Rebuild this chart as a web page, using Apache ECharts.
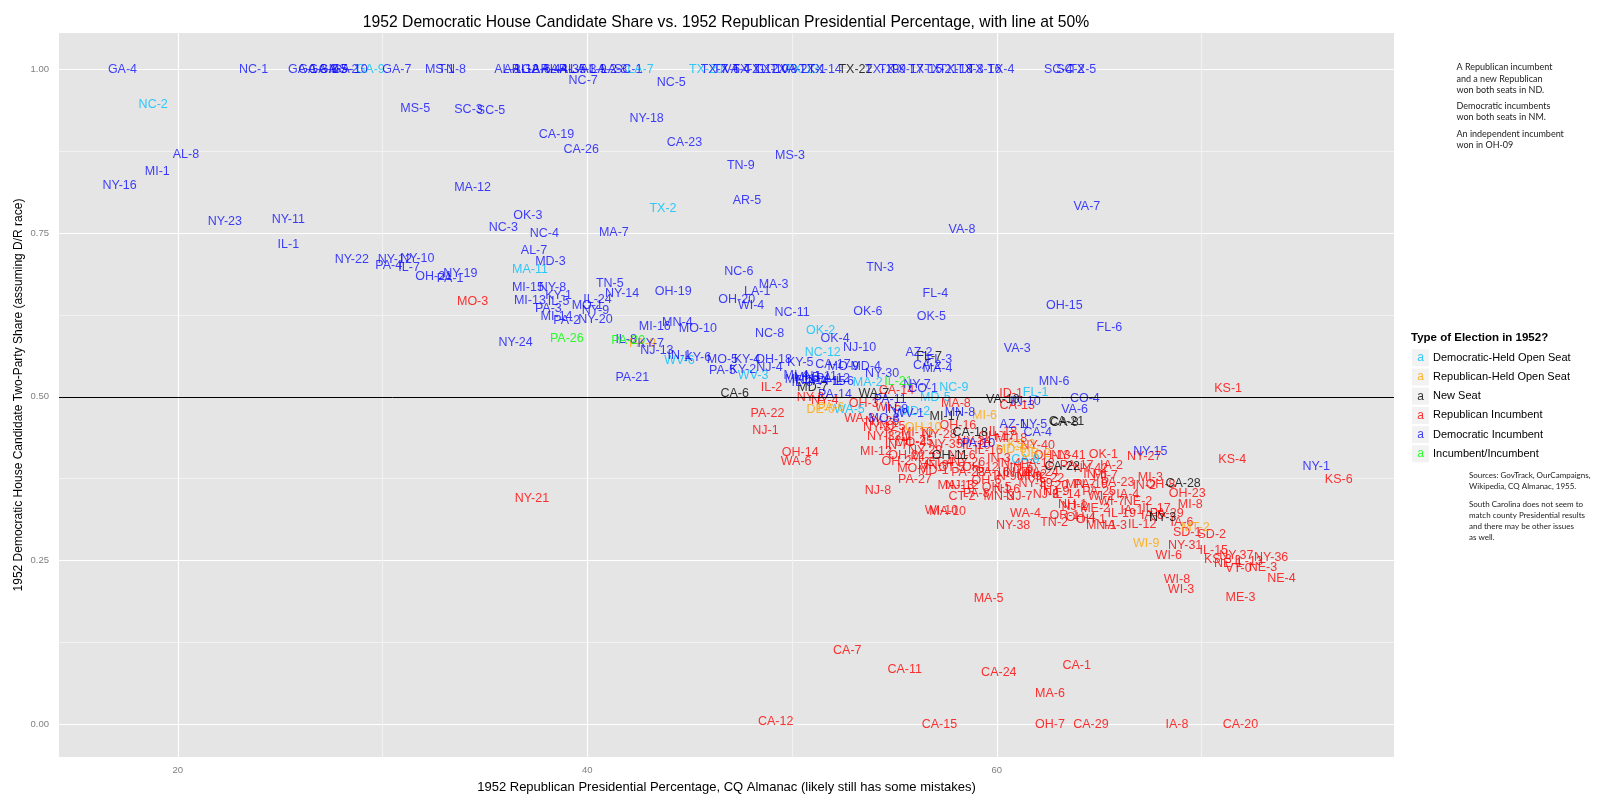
<!DOCTYPE html>
<html><head><meta charset="utf-8">
<script src="https://cdn.jsdelivr.net/npm/echarts@6/dist/echarts.min.js"></script>
<style>html,body{margin:0;padding:0;background:#fff}#c{width:1600px;height:802px}</style>
</head><body><div id="c"></div>
<script>
// [district, 1952 Republican presidential %, Democratic two-party House share]
const repInc = [
["MO-3",34.4,0.646],["NY-21",37.3,0.344],["IL-2",49.0,0.514],["PA-22",48.8,0.475],["NJ-1",48.7,0.448],
["OH-14",50.4,0.415],["WA-6",50.2,0.401],["NY-2",50.9,0.499],["NY-4",51.6,0.495],["CA-14",55.1,0.509],
["OH-3",53.5,0.489],["WI-5",54.7,0.484],["WA-3",53.3,0.467],["NY-32",54.3,0.453],["NY-33",54.5,0.440],
["IL-11",55.2,0.440],["MO-4",55.8,0.430],["MI-10",56.1,0.446],["MA-8",58.0,0.489],["OH-16",58.1,0.456],
["MI-12",54.1,0.417],["OH-22",55.6,0.411],["MI-2",56.4,0.407],["MN-9",56.9,0.395],["MD-1",56.9,0.387],
["PA-28",58.6,0.384],["PA-27",56.0,0.373],["NJ-8",54.2,0.357],["MA-13",58.0,0.365],["NJ-12",58.3,0.365],
["WI-10",57.3,0.326],["MA-10",57.6,0.325],["WA-4",61.4,0.321],["NY-38",60.8,0.303],["TN-2",62.8,0.308],
["NJ-3",62.4,0.350],["NH-1",63.7,0.335],["OR-1",63.3,0.319],["IL-20",62.8,0.365],["NY-39",61.9,0.368],
["OH-5",60.0,0.361],["NJ-6",60.5,0.358],["ID-1",60.7,0.505],["CA-13",61.0,0.487],["IL-18",60.3,0.447],
["MI-18",60.7,0.436],["OH-13",62.7,0.411],["OK-1",65.2,0.412],["NY-27",67.2,0.409],["KS-1",71.3,0.513],
["KS-4",71.5,0.404],["KS-6",76.7,0.374],["MI-3",67.5,0.376],["OH-23",69.3,0.352],["OH-8",68.0,0.366],
["IN-2",67.2,0.364],["PA-23",65.9,0.369],["MI-7",65.3,0.379],["IN-6",64.8,0.381],["PA-19",64.6,0.366],
["MN-7",64.1,0.366],["IL-14",63.4,0.350],["WI-2",65.1,0.348],["WI-7",65.6,0.340],["NJ-2",63.8,0.333],
["ME-2",64.8,0.330],["OH-4",64.1,0.315],["OH-1",64.6,0.312],["MN-1",65.1,0.304],["IA-3",65.8,0.304],
["IL-19",66.1,0.322],["IA-1",66.6,0.327],["IA-5",67.6,0.319],["SD-1",69.3,0.293],["IL-12",67.1,0.305],
["IA-6",69.05,0.308],["MI-8",69.45,0.335],["NY-31",69.2,0.273],["SD-2",70.5,0.290],["IL-15",70.6,0.265],
["NY-37",71.7,0.257],["NY-36",73.4,0.255],["NE-3",73.0,0.240],["NE-4",73.9,0.223],["NE-1",71.3,0.245],
["KS-3",70.8,0.252],["IL-13",72.3,0.248],["VT-0",71.8,0.237],["WI-6",68.4,0.257],["WI-8",68.8,0.221],
["WI-3",69.0,0.206],["ME-3",71.9,0.193],["MA-5",59.6,0.192],["CA-7",52.7,0.112],["CA-11",55.5,0.084],
["CA-24",60.1,0.079],["CA-1",63.9,0.089],["MA-6",62.6,0.047],["CA-12",49.2,0.004],["CA-15",57.2,0.000],
["OH-7",62.6,0.000],["CA-29",64.6,0.000],["IA-8",68.8,0.000],["CA-20",71.9,0.000],
["IL-10",59.0,0.425],["IL-16",59.6,0.418],["IN-3",60.1,0.405],["IN-4",60.6,0.398],["IN-5",61.2,0.392],
["OH-12",59.2,0.392],["PA-16",59.8,0.385],["IN-9",60.4,0.378],["IN-11",61.0,0.385],["MI-9",61.6,0.378],
["PA-24",62.2,0.385],["PA-18",62.0,0.398],["IL-22",62.6,0.375],["OH-6",59.5,0.372],["NY-26",58.6,0.399],
["NY-28",57.2,0.442],["NY-35",57.5,0.427],["IL-25",56.2,0.431],["NY-25",54.4,0.462],["NJ-5",54.9,0.454],
["NY-34",58.9,0.432],["OH-17",60.0,0.440],["NY-40",62.0,0.425],["NY-41",63.5,0.410],["PA-17",63.9,0.395],
["NY-42",64.6,0.390],["IA-2",65.6,0.395],["IA-4",66.4,0.350],["NE-2",66.9,0.340],["IL-17",67.8,0.330],
["PA-25",65.0,0.355],["PA-29",68.3,0.322],["MN-2",61.7,0.381],["NJ-9",62.9,0.356],["NJ-7",61.1,0.348],
["MN-3",60.1,0.347],["PA-8",59.0,0.352],["IN-7",55.1,0.426],["OH-2",55.1,0.401],["MO-7",55.9,0.390],
["NY-29",56.5,0.418],["CT-4",57.2,0.400],["CT-5",57.8,0.392],["NY-6",58.3,0.410],["CT-2",58.3,0.347]
];
const demOpen = [
["NC-2",18.8,0.946],["GA-9",29.4,1],["LA-7",42.6,1],["TX-20",45.8,1],["TX-13",50.5,1],
["TX-2",43.7,0.788],["MA-11",37.2,0.694],["WV-6",44.5,0.555],["OK-2",51.4,0.601],["NC-12",51.5,0.567],
["WV-3",48.1,0.532],["MA-2",53.7,0.522],["NC-9",57.9,0.514],["MD-5",57.0,0.499],["FL-1",61.9,0.507],
["WA-5",52.8,0.481],["CA-9",61.4,0.404],["MD-2",56.0,0.477]
];
const repOpen = [
["PA-9",42.7,0.582],["DE-0",51.4,0.480],["PA-6",51.9,0.483],["MI-6",59.4,0.471],["KS-2",61.2,0.427],
["MD-6",60.7,0.419],["OR-2",61.9,0.414],["OH-10",56.4,0.453],["MT-2",69.7,0.300],["WI-9",67.3,0.276]
];
const newSeat = [
["TX-22",53.1,1],["CA-6",47.2,0.505],["MD-7",51.0,0.514],["WA-7",54.0,0.505],["FL-7",56.7,0.562],
["MI-17",57.5,0.470],["CA-18",58.7,0.445],["OH-11",57.7,0.411],["VA-10",60.3,0.496],["CA-21",63.4,0.462],
["CA-8",63.3,0.461],["CA-22",63.2,0.394],["CA-28",69.1,0.368],["NY-3",68.1,0.316]
];
const demInc = [
["GA-4",17.3,1],["NC-1",23.7,1],["GA-1",26.1,1],["GA-8",26.6,1],["GA-3",27.1,1],["GA-5",27.6,1],
["MS-2",28.1,1],["GA-10",28.4,1],["GA-7",30.7,1],["MS-1",32.8,1],["TN-8",33.4,1],["AL-1",36.1,1],
["AR-1",36.6,1],["AL-2",37.0,1],["GA-6",37.5,1],["AR-4",38.0,1],["AL-4",38.4,1],["AR-3",38.9,1],
["AL-5",39.3,1],["LA-3",39.8,1],["AL-9",40.3,1],["LA-2",40.8,1],["LA-8",41.3,1],["SC-1",42.0,1],
["TX-7",46.2,1],["TX-6",46.8,1],["VA-4",47.3,1],["TX-11",47.9,1],["TX-12",48.5,1],["TX-10",49.0,1],
["TX-8",49.6,1],["VA-2",50.1,1],["TX-1",51.0,1],["TX-14",51.6,1],["TX-19",54.4,1],["TX-9",54.9,1],
["TX-17",55.6,1],["TX-15",56.5,1],["TX-21",57.3,1],["TX-18",58.0,1],["TX-3",58.7,1],["TX-16",59.4,1],
["TX-4",60.2,1],["SC-4",63.0,1],["SC-2",63.6,1],["TX-5",64.2,1],
["NC-7",39.8,0.983],["NC-5",44.1,0.980],["MS-5",31.6,0.940],["SC-3",34.2,0.938],["SC-5",35.3,0.937],
["NY-18",42.9,0.925],["CA-19",38.5,0.900],["CA-26",39.7,0.878],["CA-23",44.75,0.888],["MS-3",49.9,0.869],
["TN-9",47.5,0.853],["AR-5",47.8,0.799],["AL-8",20.4,0.870],["MI-1",19.0,0.844],["NY-16",17.16,0.823],
["MA-12",34.4,0.820],["NY-23",22.3,0.768],["NY-11",25.4,0.771],["OK-3",37.1,0.776],["NC-3",35.9,0.758],
["NC-4",37.9,0.750],["MA-7",41.3,0.751],["IL-1",25.4,0.733],["NY-22",28.5,0.710],["AL-7",37.4,0.724],
["MD-3",38.2,0.706],["PA-4",30.3,0.701],["NY-12",30.6,0.710],["NY-10",31.7,0.711],["IL-7",31.3,0.697],
["OH-21",32.5,0.684],["PA-1",33.3,0.681],["NY-19",33.8,0.688],["MI-15",37.1,0.667],["NY-8",38.3,0.667],
["KY-1",38.6,0.655],["MI-13",37.2,0.647],["IL-5",38.6,0.645],["PA-3",38.1,0.635],["MO-1",40.0,0.640],
["IL-24",40.5,0.648],["NY-9",40.4,0.631],["MI-14",38.5,0.623],["PA-2",39.0,0.616],["NY-20",40.4,0.618],
["TN-5",41.1,0.673],["NY-14",41.7,0.658],["MI-16",43.3,0.607],["NY-24",36.5,0.583],["IL-8",41.9,0.587],
["KY-7",43.1,0.581],["NJ-13",43.4,0.571],["IN-1",44.5,0.563],["KY-6",45.4,0.560],["PA-21",42.2,0.529],
["OH-19",44.2,0.660],["NC-6",47.4,0.692],["LA-1",48.3,0.661],["MA-3",49.1,0.672],["OH-20",47.3,0.649],
["WI-4",48.0,0.640],["NC-11",50.0,0.628],["MN-4",44.4,0.614],["MO-10",45.4,0.604],["NC-8",48.9,0.596],
["OK-4",52.1,0.589],["NJ-10",53.3,0.575],["MO-5",46.6,0.557],["KY-4",47.8,0.557],["OH-18",49.1,0.557],
["KY-5",50.4,0.552],["CA-17",52.0,0.550],["MO-9",52.5,0.546],["MD-4",53.6,0.546],["PA-5",46.6,0.540],
["KY-2",47.6,0.541],["NJ-4",48.9,0.545],["NY-30",54.4,0.536],["MI-4",50.2,0.532],["MI-5",50.7,0.530],
["NJ-11",51.4,0.531],["PA-12",52.0,0.528],["IL-3",50.5,0.522],["MI-11",50.4,0.527],["NJ-14",51.0,0.525],
["PA-15",51.8,0.524],["IL-6",52.5,0.523],["VA-8",58.3,0.755],["VA-7",64.4,0.791],["TN-3",54.3,0.697],
["FL-4",57.0,0.657],["OK-6",53.7,0.630],["OK-5",56.8,0.622],["OH-15",63.3,0.640],["FL-6",65.5,0.606],
["VA-3",61.0,0.574],["AZ-2",56.2,0.567],["FL-3",57.2,0.557],["CA-2",56.6,0.548],["MA-4",57.1,0.543],
["NY-7",56.1,0.519],["CO-1",56.4,0.512],["PA-14",52.1,0.504],["PA-11",54.8,0.496],["MO-8",54.5,0.467],
["IN-8",55.1,0.481],["MN-8",58.2,0.476],["PA-10",59.1,0.428],["MN-6",62.8,0.524],["CO-4",64.3,0.498],
["VA-6",63.8,0.481],["IN-10",61.4,0.492],["AZ-1",60.8,0.458],["NY-5",61.8,0.458],["CA-4",62.0,0.446],
["NY-15",67.5,0.416],["NY-1",75.6,0.393],["WV-1",55.7,0.474]
];
const incInc = [["PA-26",39.0,0.589],["PA-20",42.0,0.586],["IL-21",55.2,0.524]];

const legendNames = ['Democratic-Held Open Seat','Republican-Held Open Seat','New Seat','Republican Incumbent','Democratic Incumbent','Incumbent/Incumbent'];
const legendColors = ['rgba(0,191,255,0.8)','rgba(255,165,0,0.8)','rgba(0,0,0,0.8)','rgba(255,0,0,0.8)','rgba(0,0,255,0.75)','rgba(0,255,0,0.8)'];
const xTickLabels = [20,40,60];
const yTickLabels = [0,0.25,0.5,0.75,1];
const note1 = ['A Republican incumbent','and a new Republican','won both seats in ND.','Democratic incumbents','won both seats in NM.','An independent incumbent','won in OH-09'];
const note2 = ['Sources: GovTrack, OurCampaigns,','Wikipedia, CQ Almanac, 1955.','South Carolina does not seem to','match county Presidential results','and there may be other issues','as well.'];

const groupData = {
  'Democratic-Held Open Seat': demOpen, 'Republican-Held Open Seat': repOpen, 'New Seat': newSeat,
  'Republican Incumbent': repInc, 'Democratic Incumbent': demInc, 'Incumbent/Incumbent': incInc
};
const drawOrder = ['Republican Incumbent','Democratic-Held Open Seat','Republican-Held Open Seat','New Seat','Democratic Incumbent','Incumbent/Incumbent'];
const LF = 'Liberation Sans, Arial, sans-serif';

const series = drawOrder.map((nm, k) => {
  const col = legendColors[legendNames.indexOf(nm)];
  const s = {
    type: 'scatter', name: nm, silent: true, z: 3,
    data: groupData[nm].map(d => ({name: d[0], value: [d[1], d[2]]})),
    symbolSize: 1, itemStyle: {color: 'rgba(0,0,0,0)'},
    label: {show: true, position: 'inside', formatter: '{b}', color: col, fontFamily: LF, fontSize: 12.5, opacity: 1},
    labelLayout: {hideOverlap: false},
    emphasis: {disabled: true}, animation: false
  };
  if (k === 0) {
    s.markLine = {silent: true, symbol: ['none','none'], label: {show: false}, animation: false,
      lineStyle: {color: '#000', width: 1, type: 'solid'}, emphasis: {disabled: true}, data: [{yAxis: 0.5}]};
  }
  return s;
});

const note1Y = [67.3, 78.6, 89.8, 106.1, 117.3, 133.7, 144.9];
const note2Y = [475.5, 486.7, 504, 515.3, 526.5, 537.8];
const graphics = [];
graphics.push({type:'text', x: 726, y: 23, style:{text:'1952 Democratic House Candidate Share vs. 1952 Republican Presidential Percentage, with line at 50%', align:'center', verticalAlign:'middle', textAlign:'center', textVerticalAlign:'middle', fontSize:15.7, fontFamily:LF, fill:'#000'}});
graphics.push({type:'text', x: 1411, y: 338, style:{text:'Type of Election in 1952?', verticalAlign:'middle', textVerticalAlign:'middle', fontSize:11.5, fontWeight:'bold', fontFamily:LF, fill:'#000'}});
legendNames.forEach((nm, i) => {
  const cy = 357.8 + i * 19.2;
  graphics.push({type:'rect', shape:{x:1412, y:cy-8.5, width:17, height:17}, style:{fill:'#F2F2F2'}});
  graphics.push({type:'text', x:1420.5, y:cy, style:{text:'a', align:'center', verticalAlign:'middle', textAlign:'center', textVerticalAlign:'middle', fontSize:12, fontFamily:LF, fill:legendColors[i]}});
  graphics.push({type:'text', x:1433, y:cy, style:{text:nm, verticalAlign:'middle', textVerticalAlign:'middle', fontSize:11, fontFamily:LF, fill:'#000'}});
});
note1.forEach((t, i) => graphics.push({type:'text', x:1456.5, y:note1Y[i], style:{text:t, verticalAlign:'middle', textVerticalAlign:'middle', fontSize:9, fontFamily:'Lato, sans-serif', fill:'#222'}}));
note2.forEach((t, i) => graphics.push({type:'text', x:1469, y:note2Y[i], style:{text:t, verticalAlign:'middle', textVerticalAlign:'middle', fontSize:8, fontFamily:'Lato, sans-serif', fill:'#222'}}));

const chart = echarts.init(document.getElementById('c'), null, {renderer: 'canvas'});
chart.setOption({
  animation: false,
  backgroundColor: '#ffffff',
  grid: {left: 59, right: 206, top: 33, bottom: 45, show: true, backgroundColor: '#E5E5E5', borderWidth: 0},
  xAxis: {
    type: 'value', min: 14.2, max: 79.4, minInterval: 10, maxInterval: 10,
    axisLine: {show: false}, axisTick: {show: false},
    axisLabel: {color: '#7F7F7F', fontSize: 9.5, fontFamily: LF, margin: 8, showMinLabel: false, showMaxLabel: false,
      formatter: v => xTickLabels.some(t => Math.abs(t - v) < 1e-6) ? String(v) : ''},
    splitLine: {show: true, showMinLine: false, showMaxLine: false, lineStyle: {color: ['#FFFFFF', '#F2F2F2'], width: 1.2}},
    name: '1952 Republican Presidential Percentage, CQ Almanac (likely still has some mistakes)',
    nameLocation: 'middle', nameGap: 24, nameTextStyle: {color: '#000', fontSize: 13, fontFamily: LF}
  },
  yAxis: {
    type: 'value', min: -0.05, max: 1.0555, minInterval: 0.125, maxInterval: 0.125,
    axisLine: {show: false}, axisTick: {show: false},
    axisLabel: {color: '#7F7F7F', fontSize: 9.5, fontFamily: LF, margin: 10, showMinLabel: false, showMaxLabel: false,
      formatter: v => yTickLabels.some(t => Math.abs(t - v) < 1e-6) ? v.toFixed(2) : ''},
    splitLine: {show: true, showMinLine: false, showMaxLine: false, lineStyle: {color: ['#FFFFFF', '#F2F2F2'], width: 1.2}},
    name: '1952 Democratic House Candidate Two-Party Share (assuming D/R race)',
    nameLocation: 'middle', nameGap: 34, nameRotate: 90, nameMoveOverlap: false,
    nameTextStyle: {color: '#000', fontSize: 12, fontFamily: LF}
  },
  series: series,
  graphic: graphics
});
</script></body></html>
